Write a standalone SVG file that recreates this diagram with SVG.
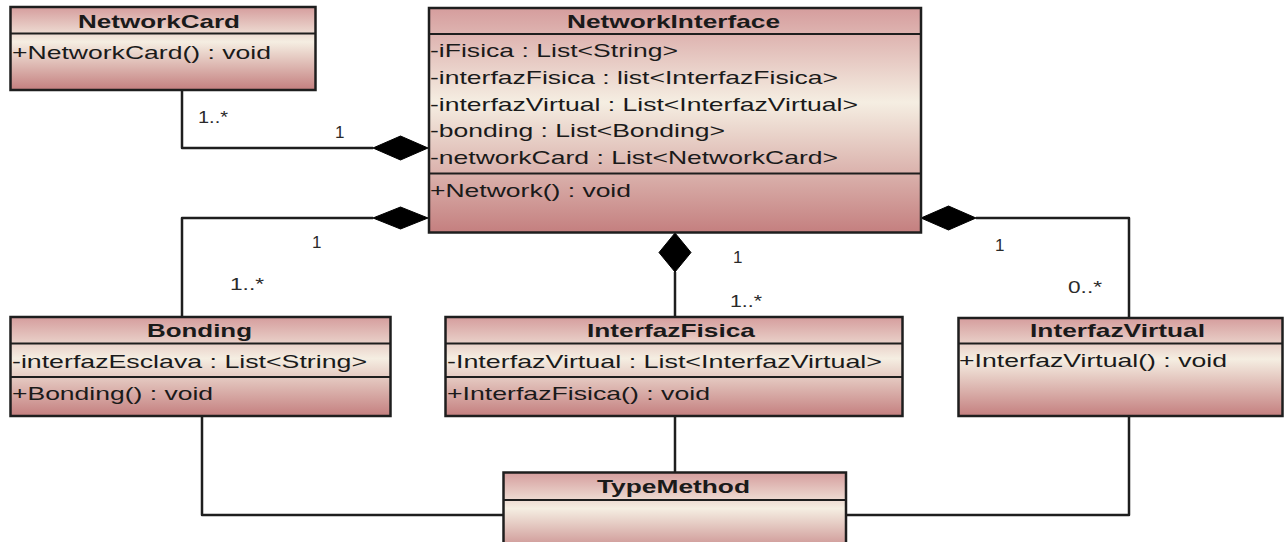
<svg xmlns="http://www.w3.org/2000/svg" width="1285" height="542" viewBox="0 0 1285 542">
  <defs>
    <linearGradient id="classFill" x1="0" y1="0" x2="0" y2="1">
      <stop offset="0" stop-color="#d59d9d"/>
      <stop offset="0.42" stop-color="#f5eee2"/>
      <stop offset="1" stop-color="#c47f7f"/>
    </linearGradient>
    <linearGradient id="tmFill" x1="0" y1="0" x2="0" y2="1">
      <stop offset="0" stop-color="#d59d9d"/>
      <stop offset="0.45" stop-color="#f5eee2"/>
      <stop offset="1" stop-color="#c88a8a"/>
    </linearGradient>
  </defs>
  <style>
    .box { fill: url(#classFill); stroke: #1e1e1e; stroke-width: 2.5; }
    .sep { stroke: #1e1e1e; stroke-width: 2; }
    .title { font-family: "Liberation Sans", Arial, sans-serif; font-size: 19px; font-weight: bold; fill: #1a1a1a; }
    .member { font-family: "Liberation Sans", Arial, sans-serif; font-size: 19px; fill: #1a1a1a; }
    .mult { font-family: "Liberation Sans", Arial, sans-serif; font-size: 17px; fill: #2a2a2a; }
    .wire { fill: none; stroke: #1e1e1e; stroke-width: 2.5; stroke-linejoin: round; }
    .diamond { fill: #000; stroke: #000; stroke-width: 1; }
  </style>

  <rect width="1285" height="542" fill="#fff"/>

  <!-- connectors -->
  <g id="connectors">
    <path class="wire" d="M182 90 V148 H373"/>
    <polygon class="diamond" points="373,148 400.5,136 428,148 400.5,160"/>
    <path class="wire" d="M182 317 V218 H373"/>
    <polygon class="diamond" points="373,218 400.5,207 428,218 400.5,229"/>
    <path class="wire" d="M675 317 V272"/>
    <polygon class="diamond" points="675,233 691,252.5 675,272 659,252.5"/>
    <path class="wire" d="M976 218 H1129 V318"/>
    <polygon class="diamond" points="921,218 948.5,206 976,218 948.5,230"/>
    <path class="wire" d="M202 416 V515 H503"/>
    <path class="wire" d="M675 416 V472"/>
    <path class="wire" d="M1129 416 V515 H846"/>

    <text class="mult" x="198" y="123" textLength="30" lengthAdjust="spacingAndGlyphs">1..*</text>
    <text class="mult" x="335" y="138">1</text>
    <text class="mult" x="312" y="248">1</text>
    <text class="mult" x="230" y="290" textLength="34" lengthAdjust="spacingAndGlyphs">1..*</text>
    <text class="mult" x="733" y="263">1</text>
    <text class="mult" x="730" y="307" textLength="32" lengthAdjust="spacingAndGlyphs">1..*</text>
    <text class="mult" x="995" y="251">1</text>
    <text class="mult" x="1068" y="293" textLength="34" lengthAdjust="spacingAndGlyphs">0..*</text>
  </g>

  <!-- NetworkCard -->
  <g id="NetworkCard">
    <rect class="box" x="10.5" y="7" width="305" height="83"/>
    <line class="sep" x1="10.5" y1="33.5" x2="315.5" y2="33.5"/>
    <text class="title" x="78" y="28" textLength="162" lengthAdjust="spacingAndGlyphs">NetworkCard</text>
    <text class="member" x="12" y="59" textLength="259" lengthAdjust="spacingAndGlyphs">+NetworkCard() : void</text>
  </g>

  <!-- NetworkInterface -->
  <g id="NetworkInterface">
    <rect class="box" x="429" y="8" width="492" height="224.5"/>
    <line class="sep" x1="429" y1="34" x2="921" y2="34"/>
    <line class="sep" x1="429" y1="173.5" x2="921" y2="173.5"/>
    <text class="title" x="567" y="28" textLength="213" lengthAdjust="spacingAndGlyphs">NetworkInterface</text>
    <text class="member" x="430" y="57" textLength="248" lengthAdjust="spacingAndGlyphs">-iFisica : List&lt;String&gt;</text>
    <text class="member" x="430" y="84" textLength="408" lengthAdjust="spacingAndGlyphs">-interfazFisica : list&lt;InterfazFisica&gt;</text>
    <text class="member" x="430" y="111" textLength="428" lengthAdjust="spacingAndGlyphs">-interfazVirtual : List&lt;InterfazVirtual&gt;</text>
    <text class="member" x="430" y="137" textLength="295" lengthAdjust="spacingAndGlyphs">-bonding : List&lt;Bonding&gt;</text>
    <text class="member" x="430" y="164" textLength="408" lengthAdjust="spacingAndGlyphs">-networkCard : List&lt;NetworkCard&gt;</text>
    <text class="member" x="430" y="197" textLength="201" lengthAdjust="spacingAndGlyphs">+Network() : void</text>
  </g>

  <!-- Bonding -->
  <g id="Bonding">
    <rect class="box" x="10.5" y="317" width="380" height="99"/>
    <line class="sep" x1="10.5" y1="343.5" x2="390.5" y2="343.5"/>
    <line class="sep" x1="10.5" y1="377" x2="390.5" y2="377"/>
    <text class="title" x="147" y="337" textLength="105" lengthAdjust="spacingAndGlyphs">Bonding</text>
    <text class="member" x="12" y="368" textLength="355" lengthAdjust="spacingAndGlyphs">-interfazEsclava : List&lt;String&gt;</text>
    <text class="member" x="12" y="400" textLength="201" lengthAdjust="spacingAndGlyphs">+Bonding() : void</text>
  </g>

  <!-- InterfazFisica -->
  <g id="InterfazFisica">
    <rect class="box" x="445.5" y="317" width="457" height="99"/>
    <line class="sep" x1="445.5" y1="343.5" x2="902.5" y2="343.5"/>
    <line class="sep" x1="445.5" y1="377" x2="902.5" y2="377"/>
    <text class="title" x="587" y="337" textLength="168" lengthAdjust="spacingAndGlyphs">InterfazFisica</text>
    <text class="member" x="447" y="368" textLength="435" lengthAdjust="spacingAndGlyphs">-InterfazVirtual : List&lt;InterfazVirtual&gt;</text>
    <text class="member" x="447" y="400" textLength="263" lengthAdjust="spacingAndGlyphs">+InterfazFisica() : void</text>
  </g>

  <!-- InterfazVirtual -->
  <g id="InterfazVirtual">
    <rect class="box" x="958.5" y="318" width="324" height="98"/>
    <line class="sep" x1="958.5" y1="343.5" x2="1282.5" y2="343.5"/>
    <text class="title" x="1030" y="337" textLength="175" lengthAdjust="spacingAndGlyphs">InterfazVirtual</text>
    <text class="member" x="959" y="367" textLength="268" lengthAdjust="spacingAndGlyphs">+InterfazVirtual() : void</text>
  </g>

  <!-- TypeMethod -->
  <g id="TypeMethod">
    <rect class="box" x="503.5" y="472.5" width="342.5" height="80" style="fill:url(#tmFill)"/>
    <line class="sep" x1="503.5" y1="500" x2="846" y2="500"/>
    <text class="title" x="597" y="493" textLength="153" lengthAdjust="spacingAndGlyphs">TypeMethod</text>
  </g>
</svg>
